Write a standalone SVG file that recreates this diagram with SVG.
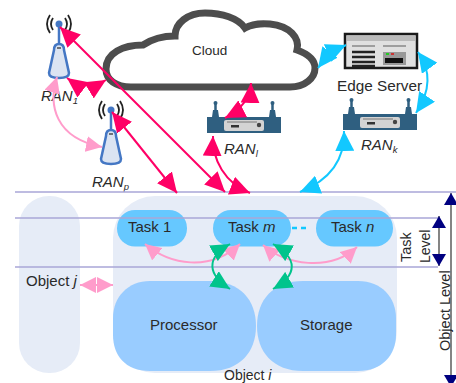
<svg xmlns="http://www.w3.org/2000/svg" width="456" height="383" viewBox="0 0 456 383">
<defs>
<marker id="r" markerUnits="userSpaceOnUse" markerWidth="21" markerHeight="19" refX="20" refY="9.500" orient="auto-start-reverse"><path d="M0 0L20 9.500L0 19Z" fill="#ff0066"/></marker>
<marker id="b" markerUnits="userSpaceOnUse" markerWidth="21" markerHeight="19" refX="20" refY="9.500" orient="auto-start-reverse"><path d="M0 0L20 9.500L0 19Z" fill="#12c8ff"/></marker>
<marker id="p" markerUnits="userSpaceOnUse" markerWidth="17" markerHeight="16" refX="16" refY="8" orient="auto-start-reverse"><path d="M0 0L16 8L0 16Z" fill="#ff9ccb"/></marker>
<marker id="g" markerUnits="userSpaceOnUse" markerWidth="20" markerHeight="18" refX="19" refY="9" orient="auto-start-reverse"><path d="M0 0L19 9L0 18Z" fill="#00c48c"/></marker>
<marker id="n" markerUnits="userSpaceOnUse" markerWidth="13" markerHeight="14" refX="12" refY="7" orient="auto-start-reverse"><path d="M0 0L12 7L0 14Z" fill="#000080"/></marker>
<g id="ant"><path d="M0 0V22" stroke="#4477c4" stroke-width="2.500"/><circle r="3.500" fill="#4477c4"/><path d="M-9 -9Q-15 0 -9 9M-6 -6Q-10 0 -6 6M9 -9Q15 0 9 9M6 -6Q10 0 6 6" fill="none" stroke="#222" stroke-width="1.800"/><path d="M-5 26Q-5 20 0 20Q5 20 5 26L10 49Q10 54 0 54Q-10 54 -10 49Z" fill="#dbe4f2" stroke="#4477c4" stroke-width="2.500"/><path d="M-2 24H2" stroke="#333" stroke-width="1.300"/></g>
<g id="rt"><path d="M0 17H5L6 10H11L12 17H62L63 10H68L69 17H74V33H0Z" fill="#2f5f80"/><path d="M8.500 4V12M65.500 4V12" stroke="#2f5f80" stroke-width="2.500"/><circle cx="8.500" cy="3" r="2" fill="#2f5f80"/><circle cx="65.500" cy="3" r="2" fill="#2f5f80"/><rect x="17" y="20" width="40" height="11" rx="2" fill="#d3d3d3"/><path d="M20 22H50" stroke="#777" stroke-width="1"/><rect x="24" y="25" width="8" height="2.500" fill="#333"/><circle cx="52" cy="25" r="2.200" fill="#444"/></g>
</defs>
<style>
text{font-family:"Liberation Sans",Arial,sans-serif;fill:#2a2a2a;font-size:15px}
.sub{font-size:9.500px}
.lv{fill:none;stroke:#a9a6d8;stroke-width:1.500}
.r{fill:none;stroke:#ff0066;stroke-width:2;marker-start:url(#r);marker-end:url(#r)}
.b{fill:none;stroke:#12c8ff;stroke-width:2;marker-start:url(#b);marker-end:url(#b)}
.p{fill:none;stroke:#ff9ccb;stroke-width:2;marker-start:url(#p);marker-end:url(#p)}
.g{fill:none;stroke:#00c48c;stroke-width:2;marker-start:url(#g);marker-end:url(#g)}
.n{fill:none;stroke:#333;stroke-width:1.200;marker-start:url(#n);marker-end:url(#n)}
.task{fill:#66c8ff}.res{fill:#99ccff}.obj{fill:#e6ecf7}
</style>
<g id="object-j"><rect class="obj" x="19" y="196" width="61" height="177" rx="30"/><text x="26" y="286">Object <tspan font-style="italic">j</tspan></text></g>
<g id="object-i"><rect class="obj" x="113" y="196" width="284" height="177" rx="42"/><text x="224" y="380" style="font-size:14px">Object <tspan font-style="italic">i</tspan></text></g>
<g id="cloud"><path d="M131 87H290C305 87 315 78 315 68C315 60 308 54 297 50C300 38 290 26 270 24C260 23 250 25 245 28C238 18 222 13 205 13C188 13 175 23 175 36C165 36 152 39 143 45C123 45 106 53 106 69C106 80 116 87 131 87Z" fill="#fff" stroke="#4d4d4d" stroke-width="7"/><text x="192" y="55" style="font-size:13.500px">Cloud</text></g>
<g id="edge-server"><rect x="345" y="34" width="72" height="34" fill="#e0e0e0" stroke="#1a1a1a" stroke-width="2.500"/><rect x="347" y="36" width="68" height="5" fill="#bbb"/><path d="M352 46H375M383 46H406" stroke="#888" stroke-width="1.500"/><path d="M352 52H375M352 57H375M352 62H375M352 66H375" stroke="#222" stroke-width="2.500"/><rect x="383" y="52" width="23" height="13" fill="#999"/><rect x="385" y="58" width="18" height="5" fill="#111"/><rect x="386" y="53" width="3" height="2" fill="#2c2"/><rect x="391" y="53" width="3" height="2" fill="#c33"/><text x="337" y="91" style="font-size:15.300px">Edge Server</text></g>
<g id="ran-1"><use href="#ant" x="59" y="24"/><text x="41" y="101" font-style="italic">RAN<tspan class="sub" dy="3">1</tspan></text></g>
<g id="ran-p"><use href="#ant" x="111" y="110"/><text x="92" y="187" font-style="italic">RAN<tspan class="sub" dy="3">p</tspan></text></g>
<g id="ran-l"><use href="#rt" x="207" y="100"/><text x="224" y="154" font-style="italic">RAN<tspan class="sub" dy="3">l</tspan></text></g>
<g id="ran-k"><use href="#rt" x="343" y="97"/><text x="361" y="150" font-style="italic">RAN<tspan class="sub" dy="3">k</tspan></text></g>
<g id="task-1"><rect class="task" x="117" y="210" width="70" height="36.500" rx="18"/><text x="128" y="232">Task 1</text></g>
<g id="task-m"><rect class="task" x="213" y="210" width="78" height="36.500" rx="18"/><text x="228" y="232">Task <tspan font-style="italic">m</tspan></text></g>
<g id="task-n"><rect class="task" x="316" y="210" width="77" height="36.500" rx="18"/><text x="331" y="232">Task <tspan font-style="italic">n</tspan></text></g>
<g id="processor"><path class="res" d="M150 281H210C240 281 256 300 256 326C256 352 240 371 210 371H150C125 371 113 355 113 335V318C113 297 128 281 150 281Z"/><text x="150" y="330">Processor</text></g>
<g id="storage"><path class="res" d="M303 281H358C382 281 396 298 396 318V335C396 355 382 371 358 371H303C273 371 257 352 257 326C257 300 273 281 303 281Z"/><text x="300" y="330">Storage</text></g>
<g id="levels"><path class="lv" d="M15 192H456M15 218H438M15 267H438"/></g>
<g id="connectors">
<path class="r" d="M60 27L225 192"/><path class="r" d="M112 112L177 193"/><path class="r" d="M67 78Q86 92 106 80"/><path class="r" d="M251 83Q250 105 225 118"/><path class="r" d="M213 136C212 160 225 183 250 193"/>
<path class="b" d="M318 68Q330 52 346 45"/><path class="b" d="M418 52Q438 80 416 113"/><path class="b" d="M344 131C345 160 330 180 300 192"/>
<path class="p" d="M57 77C48 105 55 138 102 147"/><path class="p" d="M80 285H113"/>
<path class="p" d="M145 244C170 265 210 272 240 244"/><path class="p" d="M263 245C285 265 330 272 357 247"/>
<path class="g" d="M230 244C205 258 208 275 230 289"/><path class="g" d="M273 244C298 258 298 275 273 289"/>
<path d="M292 228H306" fill="none" stroke="#12c8ff" stroke-width="2.500" stroke-dasharray="5 4"/>
<path class="n" d="M439 216V266"/><path class="n" d="M451 193V387"/>
</g>
<g id="axis-labels"><text transform="translate(411 262) rotate(-90)" style="font-size:14.500px">Task</text><text transform="translate(430 263) rotate(-90)" style="font-size:14px">Level</text><text transform="translate(450 351) rotate(-90)" style="font-size:14.500px">Object Level</text></g>
</svg>
